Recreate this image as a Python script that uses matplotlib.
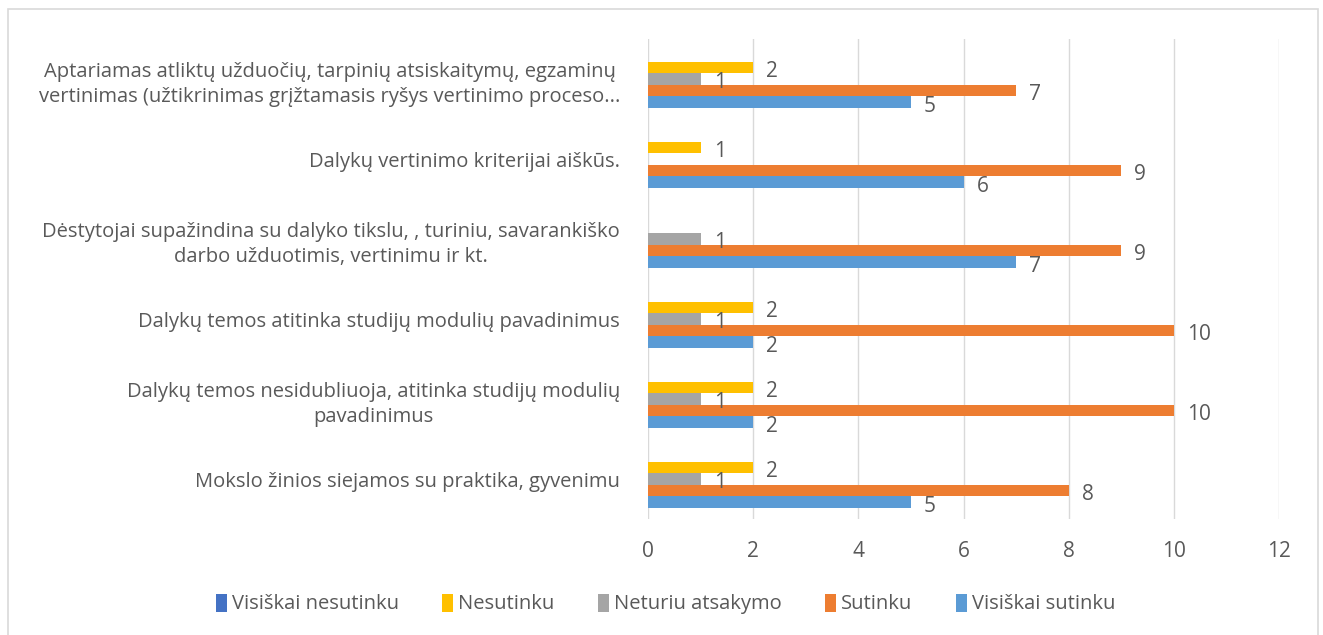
import matplotlib
matplotlib.use("Agg")
import matplotlib.pyplot as plt
import matplotlib.transforms as mtransforms
import numpy as np
from matplotlib.patches import Patch, Rectangle

plt.rcParams['font.family'] = ['Open Sans', 'DejaVu Sans']

categories = [
    "Mokslo žinios siejamos su praktika, gyvenimu",
    "Dalykų temos nesidubliuoja, atitinka studijų modulių\npavadinimus",
    "Dalykų temos atitinka studijų modulių pavadinimus",
    "Dėstytojai supažindina su dalyko tikslu, , turiniu, savarankiško\ndarbo užduotimis, vertinimu ir kt.",
    "Dalykų vertinimo kriterijai aiškūs.",
    "Aptariamas atliktų užduočių, tarpinių atsiskaitymų, egzaminų\nvertinimas (užtikrinimas grįžtamasis ryšys vertinimo proceso...",
]
series_names = ["Visiškai nesutinku", "Nesutinku", "Neturiu atsakymo", "Sutinku", "Visiškai sutinku"]
visiskai_nesutinku = [0, 0, 0, 0, 0, 0]
nesutinku = [2, 2, 2, 0, 1, 2]
neturiu_atsakymo = [1, 1, 1, 1, 0, 1]
sutinku = [8, 10, 10, 9, 9, 7]
visiskai_sutinku = [5, 2, 2, 7, 6, 5]
x_ticks = [0, 2, 4, 6, 8, 10, 12]

colors = ["#4472C4", "#FFC000", "#A5A5A5", "#ED7D31", "#5B9BD5"]
series = [visiskai_nesutinku, nesutinku, neturiu_atsakymo, sutinku, visiskai_sutinku]
text_color = "#595959"

fig = plt.figure(figsize=(13.23, 6.35), dpi=100)
ax = fig.add_axes([648/1323, 1-519/635, (1279-648)/1323, (519-39)/635])

# border around chart area
fig.patches.append(Rectangle((8/1323, -0.05), (1318-8)/1323, 1.05-9/635,
                             transform=fig.transFigure, fill=False,
                             edgecolor="#d9d9d9", linewidth=1.2))

y = np.arange(len(categories))
bh = 0.145
label_off = mtransforms.ScaledTranslation(13/100, -4/100, fig.dpi_scale_trans)
for i, (vals, col) in enumerate(zip(series, colors)):
    # first series on top, last at bottom
    off = (2 - i) * bh
    pos = y + off
    ax.barh(pos, vals, height=bh, color=col, zorder=3)
    for p, v in zip(pos, vals):
        if v > 0:
            ax.text(v, p, str(v), ha='left', va='center',
                    fontsize=15, color=text_color, zorder=4,
                    transform=ax.transData + label_off)

ax.set_xlim(0, 12)
ax.set_ylim(-0.5, len(categories) - 0.5)
ax.set_xticks(x_ticks)
ax.set_xticklabels([str(t) for t in x_ticks], fontsize=15)
ax.set_yticks(y)
ax.set_yticklabels(categories, multialignment='center', fontsize=14.5, linespacing=1.35)
ax.tick_params(axis='both', length=0, colors=text_color)
ax.tick_params(axis='y', pad=20)
ax.tick_params(axis='x', pad=16)
ax.grid(axis='x', color="#d9d9d9", linewidth=1, zorder=0)
for s in ax.spines.values():
    s.set_visible(False)

handles = [Patch(facecolor=c, edgecolor='none') for c in colors]
fig.legend(handles, series_names, loc='center', bbox_to_anchor=(0.503, 1-604/635),
           ncol=5, frameon=False, fontsize=14.5, handlelength=0.55, handleheight=1.0,
           handletextpad=0.25, columnspacing=2.15, labelcolor=text_color)

fig.savefig("out.png", dpi=100, facecolor='white')
